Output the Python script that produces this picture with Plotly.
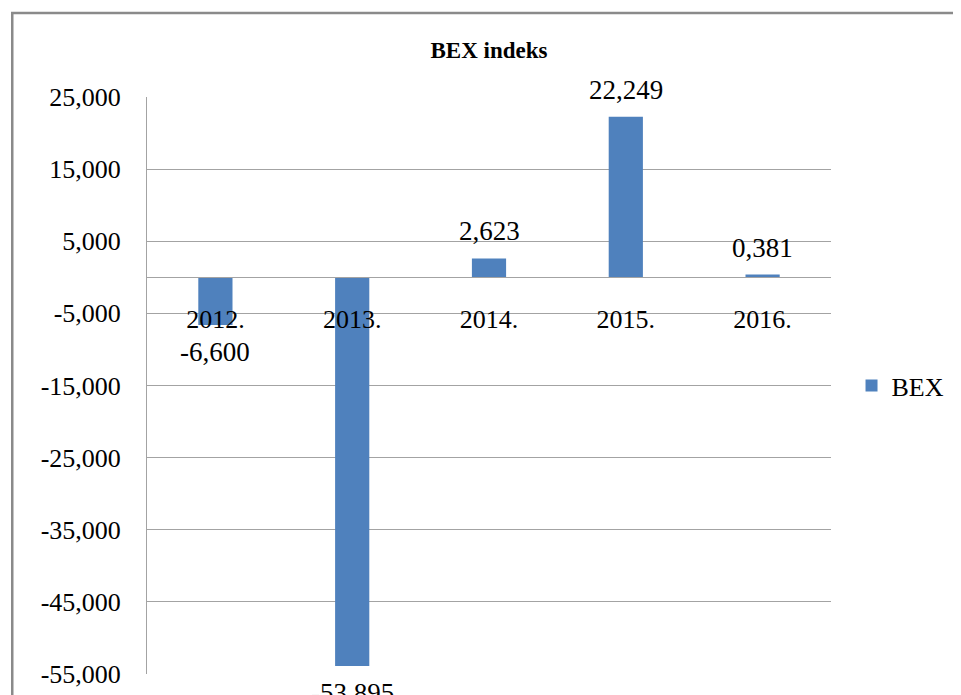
"""BEX indeks - annual change, bar chart in Excel style."""
import plotly.graph_objects as go

years = ["2012.", "2013.", "2014.", "2015.", "2016."]
bex = [-6.600, -53.895, 2.623, 22.249, 0.381]
y_ticks = [25, 15, 5, -5, -15, -25, -35, -45, -55]
y_ticktext = [f"{v:.3f}".replace(".", ",") for v in y_ticks]

GRID = "#a3a3a3"
FONT = "Liberation Serif"

fig = go.Figure(go.Bar(
    x=years, y=bex, name="BEX",
    marker_color="#4f81bd", marker_line_width=0,
    hoverinfo="x+y",
))

# data labels, Excel style: comma decimals and a plain hyphen for minus
# (category axis -> annotation x is the category's index)
for i, v in enumerate(bex):
    fig.add_annotation(x=i, y=v, text=f"{v:.3f}".replace(".", ","),
                       showarrow=False, yanchor="middle",
                       yshift=27 if v >= 0 else -27,
                       font=dict(family=FONT, size=27, color="black"))

# chart frame (runs off the right and bottom edge like the screenshot)
fig.add_shape(type="rect", xref="paper", yref="paper",
              x0=-0.197, x1=1.3, y0=-0.2, y1=1.1456,
              line=dict(color="#8a8a8a", width=2.5), layer="below")

fig.update_layout(
    width=953, height=687,
    title=dict(text="<b>BEX indeks</b>", x=0.5, xref="paper", xanchor="center",
               y=1 - 42 / 687, yanchor="middle",
               font=dict(family=FONT, size=23, color="black")),
    paper_bgcolor="white", plot_bgcolor="white",
    font=dict(family=FONT, size=26, color="black"),
    margin=dict(l=139, r=130, t=89, b=21, autoexpand=False),
    bargap=0.75,
    showlegend=True,
    legend=dict(x=1.03, y=0.5, xanchor="left", yanchor="middle",
                font=dict(family=FONT, size=26, color="black"),
                bgcolor="rgba(0,0,0,0)"),
    xaxis=dict(type="category", range=[-0.5, len(years) - 0.5],
               anchor="free", position=55 / 80, showline=True, automargin=False,
               linecolor=GRID, linewidth=1, ticks="", showgrid=False,
               ticklabelstandoff=18, tickfont=dict(size=26)),
    yaxis=dict(range=[-55, 25], tickvals=y_ticks, ticktext=y_ticktext,
               showgrid=True, gridcolor=GRID, gridwidth=1, automargin=False,
               zeroline=False, showline=True, linecolor=GRID, linewidth=1,
               ticks="", ticklabelstandoff=20, tickfont=dict(size=26)),
)

fig.write_html("out.html")
